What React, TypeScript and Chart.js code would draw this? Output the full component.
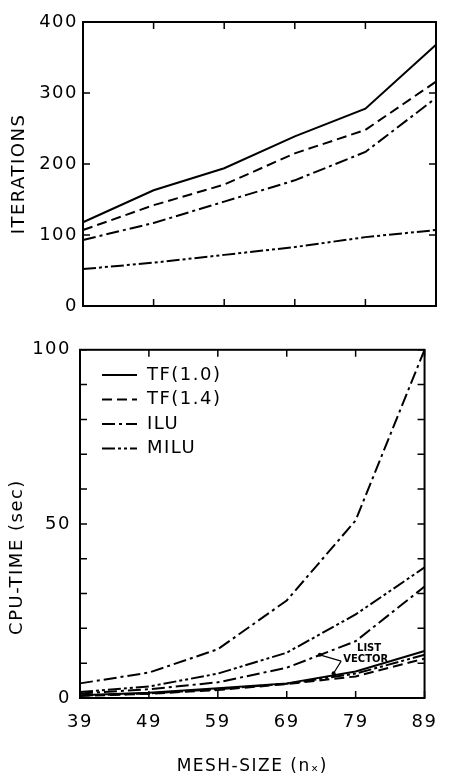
import React, { useEffect, useRef } from 'react';
import { Chart, registerables } from 'chart.js';
Chart.register(...registerables);

// ---- data ----
const meshSizes = ['39', '49', '59', '69', '79', '89'];

const iterTF10 = [118, 163, 194, 239, 278, 368];
const iterTF14 = [107, 142, 171, 215, 248, 316];
const iterILU = [93, 117, 147, 177, 217, 293];
const iterMILU = [52, 61, 72, 83, 97, 107];

const cpuILUList = [4.2, 7.3, 14, 28, 51, 100];
const cpuMILUList = [1.7, 3.3, 7, 13, 24, 37.5];
const cpuILUVector = [1.3, 2.5, 4.5, 8.7, 16.3, 32];
const cpuTF10 = [0.8, 1.5, 2.8, 4.2, 7.6, 13.5];
const cpuTF14 = [0.6, 1.2, 2.3, 4.0, 6.2, 11.3];
const cpuMILUVector = [0.7, 1.3, 2.5, 4.1, 7.0, 12.4];

const iterTicks = [0, 100, 200, 300, 400];
const cpuTickLabels = [0, 50, 100];

// ---- styles ----
const FONT = '"DejaVu Sans", sans-serif';
const DASH: Record<string, number[]> = {
  solid: [],
  dashed: [10, 5],
  dashDot: [13, 4, 3, 4],
  dashDotDot: [13, 3, 3, 3, 3, 3],
};

const spacingPlugin = {
  id: 'spacing',
  beforeDraw(chart: any) {
    try { chart.ctx.letterSpacing = '1.5px'; } catch (e) { /* ignore */ }
  },
};

const framePlugin = {
  id: 'frame',
  afterDatasetsDraw(chart: any) {
    const { ctx, chartArea: a, scales } = chart;
    ctx.save();
    ctx.strokeStyle = '#000';
    ctx.setLineDash([]);
    ctx.lineWidth = 2;
    ctx.strokeRect(a.left, a.top, a.right - a.left, a.bottom - a.top);
    const len = 7;
    ctx.lineWidth = 1.5;
    scales.y.ticks.forEach((_t: any, i: number) => {
      const py = scales.y.getPixelForTick(i);
      ctx.beginPath();
      ctx.moveTo(a.left, py);
      ctx.lineTo(a.left + len, py);
      ctx.moveTo(a.right, py);
      ctx.lineTo(a.right - len, py);
      ctx.stroke();
    });
    scales.x.ticks.forEach((_t: any, i: number) => {
      const px = scales.x.getPixelForTick(i);
      ctx.beginPath();
      ctx.moveTo(px, a.bottom);
      ctx.lineTo(px, a.bottom - len);
      ctx.moveTo(px, a.top);
      ctx.lineTo(px, a.top + len);
      ctx.stroke();
    });
    ctx.restore();
  },
};

const yTitlePlugin = {
  id: 'ytitle',
  afterDraw(chart: any, _args: any, opts: any) {
    if (!opts || !opts.text) return;
    const { ctx } = chart;
    ctx.save();
    ctx.fillStyle = '#000';
    ctx.font = `${opts.size}px ${FONT}`;
    ctx.textAlign = 'center';
    ctx.textBaseline = 'middle';
    ctx.translate(opts.x, opts.y);
    ctx.rotate(-Math.PI / 2);
    ctx.fillText(opts.text, 0, 0);
    ctx.restore();
  },
};

const legendPlugin = {
  id: 'boxlegend',
  afterDraw(chart: any, _args: any, opts: any) {
    if (!opts || !opts.items) return;
    const { ctx } = chart;
    ctx.save();
    ctx.fillStyle = '#000';
    ctx.strokeStyle = '#000';
    ctx.lineWidth = 2;
    ctx.font = `18px ${FONT}`;
    ctx.textBaseline = 'middle';
    opts.items.forEach((it: any, i: number) => {
      const y = opts.y + i * opts.step;
      ctx.setLineDash(it.dash);
      ctx.beginPath();
      ctx.moveTo(opts.x, y);
      ctx.lineTo(opts.x + 35, y);
      ctx.stroke();
      ctx.setLineDash([]);
      ctx.fillText(it.label, opts.x + 45, y);
    });
    ctx.restore();
  },
};

const notePlugin = {
  id: 'note',
  afterDraw(chart: any, _args: any, opts: any) {
    if (!opts || !opts.on) return;
    const { ctx, scales } = chart;
    const X = (v: number) => scales.x.left + ((v - 39) / 50) * (scales.x.right - scales.x.left);
    const Y = (v: number) => scales.y.getPixelForValue(v);
    ctx.save();
    ctx.letterSpacing = '0px';
    ctx.fillStyle = '#000';
    ctx.strokeStyle = '#000';
    ctx.lineWidth = 1.2;
    ctx.font = `bold 10px ${FONT}`;
    ctx.textAlign = 'left';
    ctx.textBaseline = 'middle';
    ctx.fillText('LIST', X(79.2), Y(14.1));
    ctx.fillText('VECTOR', X(77.2), Y(11.0));
    const jx = X(76.9), jy = Y(10.6);
    ctx.beginPath();
    ctx.moveTo(jx, jy);
    ctx.lineTo(X(73.8), Y(12.4));
    ctx.moveTo(jx, jy);
    ctx.lineTo(X(75.8), Y(7.1));
    ctx.stroke();
    ctx.beginPath();
    ctx.arc(X(73.8), Y(12.4), 2, 0, Math.PI * 2);
    ctx.fill();
    ctx.beginPath();
    ctx.arc(X(75.8), Y(7.1), 2, 0, Math.PI * 2);
    ctx.fill();
    ctx.restore();
  },
};

function ds(label: string, data: number[], dash: number[]) {
  return {
    label,
    data,
    borderColor: '#000',
    backgroundColor: '#000',
    borderWidth: 2,
    borderDash: dash,
    pointRadius: 0,
    tension: 0,
    fill: false,
  };
}

export default function App() {
  const topRef = useRef<HTMLCanvasElement>(null);
  const botRef = useRef<HTMLCanvasElement>(null);

  useEffect(() => {
    const tickFont = { family: FONT, size: 18 };
    const top = new Chart(topRef.current!, {
      type: 'line',
      data: {
        labels: meshSizes,
        datasets: [
          ds('TF(1.0)', iterTF10, DASH.solid),
          ds('TF(1.4)', iterTF14, DASH.dashed),
          ds('ILU', iterILU, DASH.dashDot),
          ds('MILU', iterMILU, DASH.dashDotDot),
        ],
      },
      options: {
        animation: false,
        responsive: false,
        layout: { padding: { top: 22, right: 14, left: 0, bottom: 0 } },
        plugins: {
          legend: { display: false },
          tooltip: { enabled: false },
          ytitle: { text: 'ITERATIONS', x: 19, y: 174, size: 18 },
        } as any,
        scales: {
          x: {
            type: 'category',
            offset: false,
            grid: { display: false, drawTicks: false },
            border: { display: false },
            ticks: { display: false },
            afterFit: (s: any) => { s.height = 24; },
          },
          y: {
            min: 0,
            max: 400,
            afterBuildTicks: (s: any) => { s.ticks = iterTicks.map((v) => ({ value: v })); },
            ticks: { font: tickFont, color: '#000', padding: 5 },
            grid: { display: false, drawTicks: false },
            border: { display: false },
            afterFit: (s: any) => { s.width = 83; },
          },
        },
      },
      plugins: [spacingPlugin, framePlugin, yTitlePlugin],
    });

    const bot = new Chart(botRef.current!, {
      type: 'line',
      data: {
        labels: meshSizes,
        datasets: [
          ds('ILU list', cpuILUList, DASH.dashDot),
          ds('MILU list', cpuMILUList, DASH.dashDotDot),
          ds('ILU vector', cpuILUVector, DASH.dashDot),
          ds('MILU vector', cpuMILUVector, DASH.dashDotDot),
          ds('TF(1.0)', cpuTF10, DASH.solid),
          ds('TF(1.4)', cpuTF14, DASH.dashed),
        ],
      },
      options: {
        animation: false,
        responsive: false,
        layout: { padding: { top: 13, right: 16, left: 0, bottom: 0 } },
        plugins: {
          legend: { display: false },
          tooltip: { enabled: false },
          ytitle: { text: 'CPU-TIME (sec)', x: 17, y: 227, size: 18 },
          boxlegend: {
            x: 102,
            y: 45,
            step: 24.5,
            items: [
              { label: 'TF(1.0)', dash: DASH.solid },
              { label: 'TF(1.4)', dash: DASH.dashed },
              { label: 'ILU', dash: DASH.dashDot },
              { label: 'MILU', dash: DASH.dashDotDot },
            ],
          },
          note: { on: true },
        } as any,
        scales: {
          x: {
            type: 'category',
            offset: false,
            grid: { display: false, drawTicks: false },
            border: { display: false },
            ticks: { font: tickFont, color: '#000', padding: 14, maxRotation: 0, autoSkip: false },
            title: {
              display: true,
              text: 'MESH-SIZE (nₓ)',
              font: { family: FONT, size: 17 },
              color: '#000',
              padding: { top: 0, bottom: 1 },
            },
            afterFit: (s: any) => { s.height = 80; },
          },
          y: {
            min: 0,
            max: 100,
            ticks: {
              stepSize: 10,
              font: tickFont,
              color: '#000',
              padding: 9,
              callback: (v: any) => (cpuTickLabels.includes(Number(v)) ? String(v) : ''),
            },
            grid: { display: false, drawTicks: false },
            border: { display: false },
            afterFit: (s: any) => { s.width = 80; },
          },
        },
      },
      plugins: [spacingPlugin, framePlugin, yTitlePlugin, legendPlugin, notePlugin],
    });

    return () => {
      top.destroy();
      bot.destroy();
    };
  }, []);

  return (
    <div style={{ position: 'fixed', left: 0, top: 0, width: 450, height: 778, background: '#fff' }}>
      <canvas ref={topRef} width={450} height={330} style={{ position: 'absolute', left: 0, top: 0, width: 450, height: 330 }} />
      <canvas ref={botRef} width={450} height={448} style={{ position: 'absolute', left: 0, top: 330, width: 450, height: 448 }} />
    </div>
  );
}
